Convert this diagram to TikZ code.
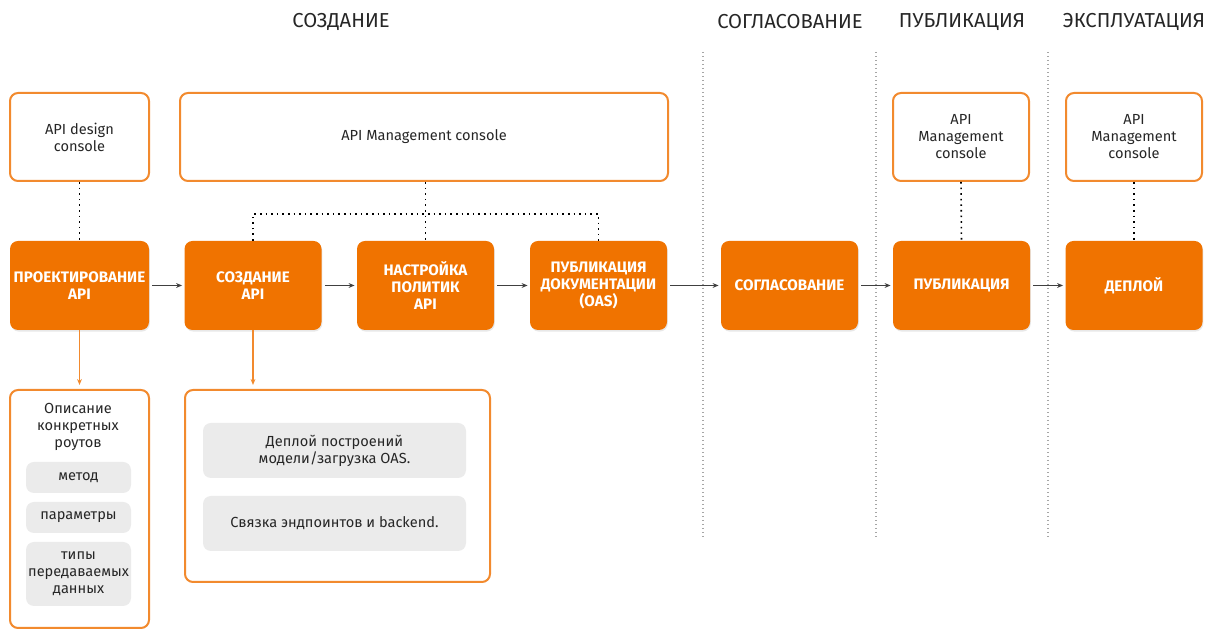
\documentclass[tikz,border=0pt]{standalone}
\usepackage{fontspec}
\setmainfont{Fira Sans}
\usetikzlibrary{arrows.meta, calc, shadows}
\definecolor{stagecolor}{HTML}{F07300}
\definecolor{edgecolor}{HTML}{F28A2E}
\definecolor{pillcolor}{HTML}{EBEBEB}
\colorlet{inkcolor}{black!85}
\colorlet{flowcolor}{black!75}

\begin{document}
\begin{tikzpicture}[x=0.5pt, y=-0.5pt, >=Stealth,
  stagebox/.style={fill=stagecolor, rounded corners=4pt, text=white,
    font=\fontsize{7.6}{8.5}\selectfont\bfseries, align=center,
    minimum width=68.5pt, minimum height=44.5pt, inner sep=1pt,
    drop shadow={opacity=0.18, shadow xshift=0.4pt, shadow yshift=-0.8pt}},
  toolbox/.style={draw=edgecolor, line width=1pt, fill=white, rounded corners=4pt,
    text=inkcolor, font=\fontsize{7.3}{8.5}\selectfont, align=center,
    minimum width=68pt, minimum height=44pt, inner sep=1pt},
  pill/.style={fill=pillcolor, rounded corners=4pt, text=inkcolor,
    font=\fontsize{7.3}{8.5}\selectfont, align=center, inner sep=1pt},
  phase/.style={text=inkcolor, font=\fontsize{10.1}{12}\selectfont},
  flow/.style={->, flowcolor, line width=0.5pt, shorten <=1.5pt, shorten >=1pt,
    -{Stealth[length=3pt, width=2.4pt]}},
  drill/.style={draw=edgecolor, line width=0.6pt,
    -{Stealth[length=3pt, width=2.4pt]}, shorten >=2pt},
  link/.style={black, line width=0.8pt, dash pattern=on 0.8pt off 2pt},
  lane/.style={black!35, line width=0.6pt, dash pattern=on 0.6pt off 1.4pt}
]

  \useasboundingbox (0,0) rectangle (1228,640);

  % Phase titles along the top.
  \node[phase] (hcreate)  at (341,22)  {СОЗДАНИЕ};
  \node[phase] (happrove) at (790,22)  {СОГЛАСОВАНИЕ};
  \node[phase] (hpublish) at (962,22)  {ПУБЛИКАЦИЯ};
  \node[phase] (hrun)     at (1134,22) {ЭКСПЛУАТАЦИЯ};

  % Lane separators.
  \foreach \x in {703, 876, 1048} { \draw[lane] (\x,52) -- (\x,537); }

  % Consoles.
  \node[toolbox, minimum width=69.5pt] (dcon) at (79.5,137) {API design\\console};
  \node[toolbox, minimum width=244pt]  (mcon) at (424,137)  {API Management console};
  \node[toolbox] (pcon) at (961,137)  {API\\Management\\console};
  \node[toolbox] (econ) at (1134,137) {API\\Management\\console};

  % The main chain of stages.
  \node[stagebox, minimum width=69.5pt] (design) at (79.5,285.5) {ПРОЕКТИРОВАНИЕ\\API};
  \node[stagebox] (create)  at (253,285.5)    {СОЗДАНИЕ\\API};
  \node[stagebox] (policy)  at (425.5,285.5)  {НАСТРОЙКА\\ПОЛИТИК\\API};
  \node[stagebox] (docs)    at (598.5,285.5)  {ПУБЛИКАЦИЯ\\ДОКУМЕНТАЦИИ\\(OAS)};
  \node[stagebox] (approve) at (789.5,285.5)  {СОГЛАСОВАНИЕ};
  \node[stagebox] (publish) at (961.5,285.5)  {ПУБЛИКАЦИЯ};
  \node[stagebox] (deploy)  at (1134,285.5)   {ДЕПЛОЙ};

  \draw[flow] (design) -- (create);
  \draw[flow] (create) -- (policy);
  \draw[flow] (policy) -- (docs);
  \draw[flow] (docs) -- (approve);
  \draw[flow] (approve) -- (publish);
  \draw[flow] (publish) -- (deploy);

  % Which console serves which stage.
  \coordinate (bus) at (426,214);
  \draw[link] (dcon.south -| design.north) -- (design.north);
  \draw[link] (mcon.south -| policy.north) -- (policy.north);
  \draw[link] (create.north) -- (create.north |- bus) -- (docs.north |- bus) -- (docs.north);
  \draw[link] (pcon.south) -- (publish.north);
  \draw[link] (econ.south) -- (deploy.north);

  % Details under the first two stages.
  \node[toolbox, minimum width=69.5pt, minimum height=119pt] (routes) at (79.5,509) {};
  \node[text=inkcolor, font=\fontsize{7.3}{8.5}\selectfont, align=center] (rtitle) at (78,427)
    {Описание\\конкретных\\роутов};
  \node[pill, minimum width=52.5pt, minimum height=15.5pt] (method) at (78.5,477.5) {метод};
  \node[pill, minimum width=52.5pt, minimum height=15.5pt] (params) at (78.5,517.5) {параметры};
  \node[pill, minimum width=52.5pt, minimum height=32pt]   (types)  at (78.5,574)   {типы\\передаваемых\\данных};

  \node[toolbox, minimum width=152.5pt, minimum height=96pt] (build) at (337.5,486) {};
  \node[pill, minimum width=131.5pt, minimum height=27.5pt] (upload) at (334.5,450.5)
    {Деплой построений\\модели/загрузка OAS.};
  \node[pill, minimum width=131.5pt, minimum height=27.5pt] (bind) at (334.5,523.5)
    {Связка эндпоинтов и backend.};

  \draw[drill] (design.south) -- (routes.north -| design.south);
  \draw[drill] (create.south) -- (build.north -| create.south);

\end{tikzpicture}
\end{document}
